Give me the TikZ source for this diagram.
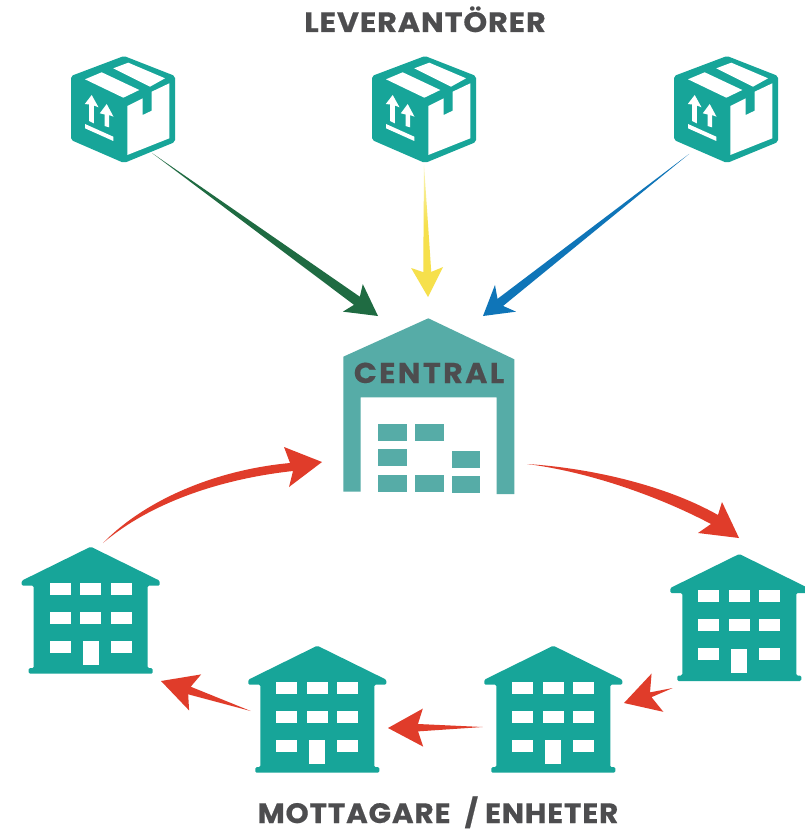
\documentclass[tikz,border=0pt]{standalone}
\usepackage{fontspec}
\usetikzlibrary{calc}
\setmainfont{Poppins}
\newfontfamily\labfont[LetterSpace=3,BoldFont={Poppins Bold},BoldFeatures={FakeBold=0.6}]{Poppins}
\newfontfamily\cenfont[LetterSpace=8,BoldFont={Poppins Bold},BoldFeatures={FakeBold=0.4}]{Poppins}
\definecolor{teal1}{HTML}{17A599}
\definecolor{teal2}{HTML}{56ACA7}
\definecolor{txt}{HTML}{4D4D4F}
\definecolor{redA}{HTML}{E03C2A}
\definecolor{greenA}{HTML}{1F6B42}
\definecolor{yellowA}{HTML}{F6E04C}
\definecolor{yellowB}{HTML}{F8F2AE}
\definecolor{blueA}{HTML}{0F75B8}
\definecolor{tailA}{HTML}{A8A8A0}
\pgfdeclareverticalshading{greenfade}{100bp}{color(0bp)=(tailA); color(32bp)=(tailA); color(44bp)=(greenA); color(100bp)=(greenA)}
\pgfdeclareverticalshading{bluefade}{100bp}{color(0bp)=(tailA); color(32bp)=(tailA); color(44bp)=(blueA); color(100bp)=(blueA)}
\pgfdeclareverticalshading{yellowfade}{100bp}{color(0bp)=(yellowB); color(28bp)=(yellowB); color(48bp)=(yellowA); color(100bp)=(yellowA)}
\pgfdeclareverticalshading{redsolid}{100bp}{color(0bp)=(redA); color(100bp)=(redA)}
\tikzset{
  x=0.75pt,y=-0.75pt,
  labeltext/.style={font=\labfont\bfseries\fontsize{21}{24}\selectfont,text=txt,inner sep=0pt,anchor=base},
  centext/.style={font=\cenfont\bfseries\fontsize{21.5}{24}\selectfont,text=txt,inner sep=0pt,anchor=base},
  holes/.style={fill=white},
  pics/crate/.style={code={
    \fill[teal1,rounded corners=1.5pt] (0,0)--(51,20)--(51,86)--(0,107)--(-53,84)--(-53,20)--cycle;
    \fill[holes] (3.3,50)--(18.7,42.3)--(18.7,59)--(27.7,54.7)--(27.7,35.7)--(45.3,27.3)--(45.3,82.3)--(3.3,99)--cycle;
    \fill[holes] (-39,23.3)--(-22.3,16.3)--(15.3,34)--(-0.7,41.7)--cycle;
    \fill[holes] (-10.7,12.3)--(4.3,6.7)--(41,22.3)--(26,30.7)--cycle;
    \fill[holes] (-32.3,39)--(-25.5,51.3)--(-30.2,49.5)--(-30.2,67.3)--(-35,65)--(-35,48.5)--(-39.2,48)--cycle;
    \fill[holes] (-17.3,48)--(-10.5,60.7)--(-15,59)--(-15,71.3)--(-19.5,70)--(-19.5,58.5)--(-24.2,57.3)--cycle;
    \fill[holes] (-39,68)--(-10.7,80.7)--(-10.7,85)--(-39,72.3)--cycle;
  }},
  pics/block/.style={code={
    \fill[teal1,rounded corners=1pt] (0,0)--(69,34)--(69,39)--(57,39)--(57,121.5)--(62,121.5)--(62,127)--(-62,127)--(-62,121.5)--(-57,121.5)--(-57,39)--(-69,39)--(-69,34)--cycle;
    \foreach \yy in {36,65,94}{
      \foreach \xx in {-30.5,0,30.5}{
        \ifnum\yy=94 \ifdim\xx pt=0pt\else
          \fill[holes] (\xx-10.5,\yy) rectangle (\xx+10.5,\yy+12);
        \fi\else
          \fill[holes] (\xx-10.5,\yy) rectangle (\xx+10.5,\yy+12);
        \fi
      }
    }
    \fill[holes] (-8,94.5) rectangle (8,118.5);
  }}
}
% tapered arrow: tail, tip, shading, shading angle, neck half, neck back, barb half, barb back (all px)
\newcommand{\taper}[8]{%
  \shade[shading=#3,shading angle=#4]
    (#1) -- ($($(#2)!#6*0.75pt!(#1)$)!#5*0.75pt!90:(#2)$)
    -- ($($(#2)!#8*0.75pt!(#1)$)!#7*0.75pt!90:(#2)$)
    -- (#2)
    -- ($($(#2)!#8*0.75pt!(#1)$)!#7*0.75pt!-90:(#2)$)
    -- ($($(#2)!#6*0.75pt!(#1)$)!#5*0.75pt!-90:(#2)$) -- cycle;}
\begin{document}
\begin{tikzpicture}
\useasboundingbox (0,0) rectangle (805,831);
\fill[white] (0,0) rectangle (805,831);
% labels
\node[labeltext] (sup) at (425,32) {\scalebox{1.08}[1]{LEVERANTÖRER}};
\node[labeltext] (rec) at (438,823) {\scalebox{1.05}[1]{MOTTAGARE\ \ / ENHETER}};
% suppliers
\pic (b1) at (124,56) {crate};
\pic (b2) at (425,56) {crate};
\pic (b3) at (727,56) {crate};
% central
\fill[teal2] (428.3,318.3)--(514.3,359.3)--(514.3,494)--(496.7,494)--(496.7,397.3)--(360.7,397.3)--(360.7,491.7)--(343.3,491.7)--(343.3,356.7)--cycle;
\foreach \xa/\ya in {378/424,415/424,378/449.3,378/474.7,415/474.7}{
  \fill[teal2] (\xa,\ya) rectangle (\xa+28.5,\ya+17);}
\foreach \xa/\ya in {452/450.7,452/475.7}{
  \fill[teal2] (\xa,\ya) rectangle (\xa+28,\ya+17);}
\node[centext] (cen) at (429,383) {\scalebox{1.05}[1]{CENTRAL}};
% receivers
\pic (h1) at (90.7,546.7) {block};
\pic (h2) at (317.3,645.7) {block};
\pic (h3) at (553.3,645.7) {block};
\pic (h4) at (739.3,554) {block};
% connector ends
\coordinate (g0) at (152,153); \coordinate (g1) at (378,316);
\coordinate (y0) at (424,165); \coordinate (y1) at (428,297);
\coordinate (u0) at (689,154); \coordinate (u1) at (483,316);
\coordinate (a0) at (672.7,688); \coordinate (a1) at (624,703);
\coordinate (c0) at (482.7,727); \coordinate (c1) at (388,728);
\coordinate (d0) at (250.7,711); \coordinate (d1) at (161,681);
\coordinate (l0) at (103,543); \coordinate (l1) at (322,462);
\coordinate (r0) at (527,464); \coordinate (r1) at (739,538);
% straight arrows
\taper{g0}{g1}{greenfade}{-36}{5}{26}{17}{31}
\taper{y0}{y1}{yellowfade}{180}{4}{25}{16}{29.5}
\taper{u0}{u1}{bluefade}{38}{4.5}{22}{17}{28.6}
\taper{a0}{a1}{redsolid}{0}{2.5}{28}{20}{35}
\taper{c0}{c1}{redsolid}{0}{3.7}{30}{19}{35}
\taper{d0}{d1}{redsolid}{0}{4}{30}{19}{36}
% curved arrows
\fill[redA] (l0) .. controls (145,500) and (215,470) .. (290,463) -- (284,447) -- (l1) -- (289,487) -- (293,471) .. controls (220,479) and (150,503) .. (l0) -- cycle;
\fill[redA] (r0) .. controls (590,468) and (665,485) .. (718,515) -- (722,502) -- (r1) -- (698,533) -- (711,524) .. controls (660,497) and (590,472) .. (r0) -- cycle;
\end{tikzpicture}
\end{document}
